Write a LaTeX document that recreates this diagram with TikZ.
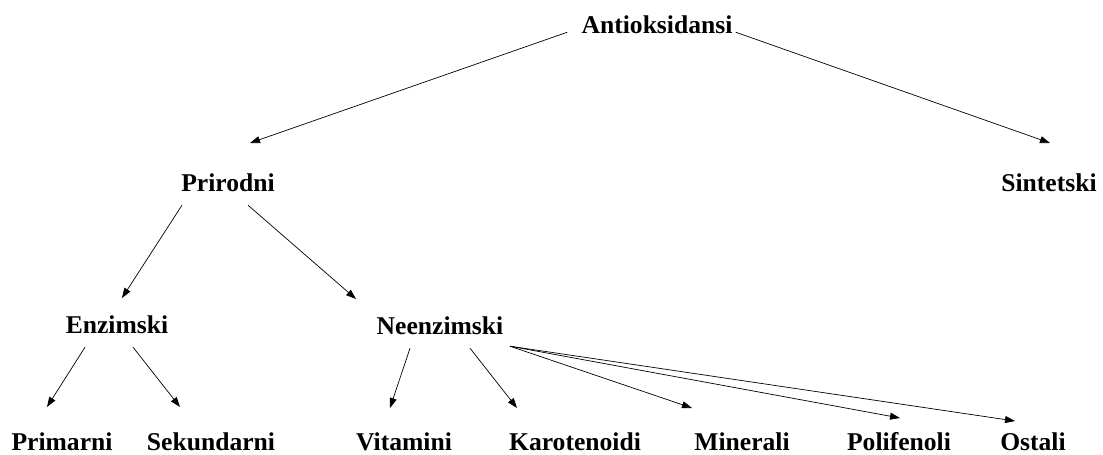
\documentclass[tikz,border=0pt]{standalone}
\usepackage{fontspec}
\setmainfont{Liberation Serif}
\usetikzlibrary{
    arrows.meta,
    positioning
}
\tikzset{
    lbl/.style={font=\fontsize{25.6}{30}\selectfont\bfseries, inner sep=0pt},
    arr/.style={-{Triangle[length=10pt,width=7pt]}, line width=0.7pt}
}

\begin{document}
\begin{tikzpicture}[x=1pt, y=-1pt]
                        \useasboundingbox (0,0) rectangle (1103,455);

                        \node[lbl] (anti) at (657, 25) {Antioksidansi};
                        \node[lbl] (prir) at (228, 183) {Prirodni};
                        \node[lbl] (sint) at (1049, 183) {Sintetski};
                        \node[lbl] (enz) at (117, 325) {Enzimski};
                        \node[lbl] (neenz) at (440, 326) {Neenzimski};
                        \node[lbl] (prim) at (62, 442) {Primarni};
                        \node[lbl] (sek) at (211, 442) {Sekundarni};
                        \node[lbl] (vit) at (404, 442) {Vitamini};
                        \node[lbl] (kar) at (575, 442) {Karotenoidi};
                        \node[lbl] (min) at (742, 442) {Minerali};
                        \node[lbl] (pol) at (899, 442) {Polifenoli};
                        \node[lbl] (ost) at (1033, 442) {Ostali};

                        % arrow tips stop short of the labels
                        \coordinate (tprir) at (250, 143);
                        \coordinate (tsint) at (1050, 143);
                        \coordinate (tenz) at (122, 298);
                        \coordinate (tneenz) at (356, 299);
                        \coordinate (tprim) at (47, 407);
                        \coordinate (tsek) at (180, 407);
                        \coordinate (tvit) at (390, 408);
                        \coordinate (tkar) at (517, 408);
                        \coordinate (tmin) at (692, 408);
                        \coordinate (tpol) at (900, 418);
                        \coordinate (tost) at (1015, 421);

                        \draw
                        ([shift={(-14,-2)}]anti.south west) edge[arr] (tprir)
                        ([shift={(3,-2)}]anti.south east) edge[arr] (tsint)
                        ([shift={(-46,13)}]prir.south) edge[arr] (tenz)
                        ([shift={(20,13)}]prir.south) edge[arr] (tneenz)
                        ([shift={(-32,13)}]enz.south) edge[arr] (tprim)
                        ([shift={(16,13)}]enz.south) edge[arr] (tsek)
                        ([shift={(-30,13)}]neenz.south) edge[arr] (tvit)
                        ([shift={(30,13)}]neenz.south) edge[arr] (tkar)
                        ([shift={(70,11)}]neenz.south) edge[arr] (tmin)
                        ([shift={(70,11)}]neenz.south) edge[arr] (tpol)
                        ([shift={(70,11)}]neenz.south) edge[arr] (tost);
\end{tikzpicture}
\end{document}
